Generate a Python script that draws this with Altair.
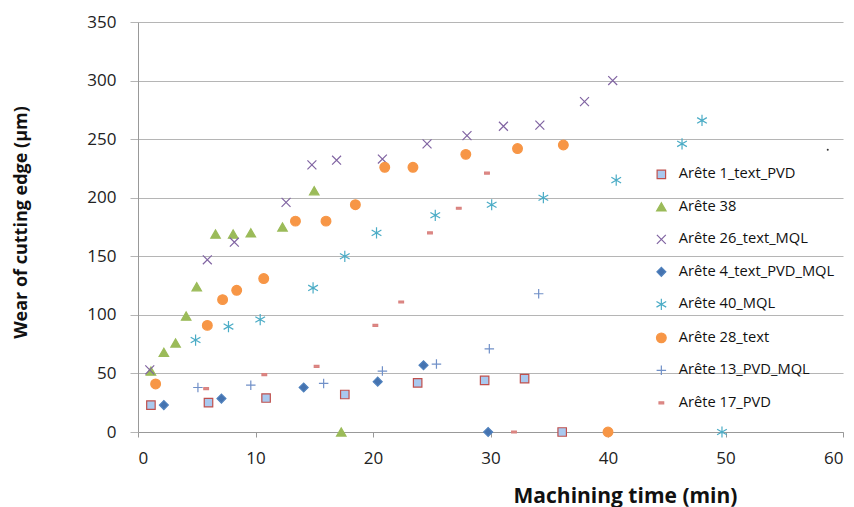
import altair as alt
import pandas as pd

series_names = ["Arête 1_text_PVD", "Arête 38", "Arête 26_text_MQL", "Arête 4_text_PVD_MQL",
                "Arête 40_MQL", "Arête 28_text", "Arête 13_PVD_MQL", "Arête 17_PVD"]

a1_x = [1.1, 6.0, 10.9, 17.6, 23.8, 29.5, 32.9, 36.1]
a1_y = [23, 25, 29, 32, 42, 44, 45.5, 0]
a38_x = [1.1, 2.2, 3.2, 4.1, 5.0, 6.6, 8.1, 9.6, 12.3, 15.0, 17.3]
a38_y = [52, 68, 76, 99, 124, 169, 169, 170, 175, 206, 0]
a26_x = [1.0, 5.9, 8.2, 12.6, 14.8, 16.9, 20.8, 24.6, 28.0, 31.1, 34.2, 38.0, 40.4]
a26_y = [53, 147, 162, 196, 228, 232, 233, 246, 253, 261, 262, 282, 300]
a4_x = [2.2, 7.1, 14.1, 20.4, 24.3, 29.8]
a4_y = [23, 28.5, 38, 43, 57, 0]
a40_x = [4.9, 7.7, 10.4, 14.9, 17.6, 20.3, 25.3, 30.1, 34.5, 40.7, 46.3, 48.0, 49.7]
a40_y = [78.5, 90, 96, 123, 150, 170, 185, 194, 200, 215, 246, 266, 0]
a28_x = [1.5, 5.9, 7.2, 8.4, 10.7, 13.4, 16.0, 18.5, 21.0, 23.4, 27.9, 32.3, 36.2, 40.0]
a28_y = [41, 91, 113, 121, 131, 180, 180, 194, 226, 226, 237, 242, 245, 0]
a13_x = [5.1, 9.6, 15.8, 20.8, 25.4, 29.9, 34.1]
a13_y = [38, 40, 41.5, 52, 58, 71, 118]
a17_x = [5.8, 10.75, 15.2, 20.2, 22.4, 24.85, 27.3, 29.7, 32.0]
a17_y = [37, 49, 56, 91, 111, 170, 191, 221, 0]

stray_x = [58.7]
stray_y = [241]

xs = [a1_x, a38_x, a26_x, a4_x, a40_x, a28_x, a13_x, a17_x]
ys = [a1_y, a38_y, a26_y, a4_y, a40_y, a28_y, a13_y, a17_y]

rows = []
for name, sx, sy in zip(series_names, xs, ys):
    for xv, yv in zip(sx, sy):
        rows.append({"series": name, "t": xv, "wear": yv})
df = pd.DataFrame(rows)
stray = pd.DataFrame({"t": stray_x, "wear": stray_y})

shapes = ["square", "triangle-up", "M-1,-1L1,1M-1,1L1,-1", "diamond",
          "M0,-1V1M-0.87,-0.5L0.87,0.5M-0.87,0.5L0.87,-0.5", "circle",
          "M-1,0H1M0,-1V1", "M-1,-0.4H1V0.4H-1Z"]
strokes = ["#c0504d", "#9bbb59", "#8064a2", "#4f81bd", "#4bacc6", "#f79646", "#7090c8", "#d9827f"]
fills = ["#a9c9ef", "#9bbb59", "transparent", "#4573b0", "transparent", "#f79646", "transparent", "#e08a88"]
sizes = [72, 90, 80, 80, 125, 95, 90, 22]

FONT = "Open Sans"

x_enc = alt.X("t:Q", scale=alt.Scale(domain=[0, 60], nice=False),
              axis=alt.Axis(values=list(range(0, 61, 10)), grid=False, title="Machining time (min)",
                            titleX=487, titleY=53, titleFontSize=21, titleFontWeight="bold",
                            titleFont=FONT, labelFont=FONT, labelFontSize=17, labelColor="#222",
                            titleColor="#111", domainColor="#999", tickColor="#999", tickSize=5,
                            labelPadding=13))
y_enc = alt.Y("wear:Q", scale=alt.Scale(domain=[0, 350], nice=False),
              axis=alt.Axis(values=list(range(0, 351, 50)), grid=True, gridColor="#b5b5b5",
                            title="Wear of cutting edge (µm)", titleX=-108, titleY=200,
                            titleFontSize=18, titleFontWeight="bold", titleFont=FONT,
                            labelFont=FONT, labelFontSize=17, labelColor="#222", titleColor="#111",
                            domainColor="#999", tickColor="#b5b5b5", tickSize=8, labelPadding=14))

points = alt.Chart(df).mark_point(opacity=1, strokeWidth=1.2).encode(
    x=x_enc,
    y=y_enc,
    shape=alt.Shape("series:N", sort=series_names,
                    scale=alt.Scale(domain=series_names, range=shapes), title=None),
    stroke=alt.Stroke("series:N", sort=series_names,
                      scale=alt.Scale(domain=series_names, range=strokes), title=None),
    fill=alt.Fill("series:N", sort=series_names,
                  scale=alt.Scale(domain=series_names, range=fills), title=None),
    size=alt.Size("series:N", sort=series_names,
                  scale=alt.Scale(type="ordinal", domain=series_names, range=sizes), title=None),
)

dot = alt.Chart(stray).mark_point(filled=True, color="#333", size=4, opacity=1).encode(
    x="t:Q", y="wear:Q")

chart = alt.layer(points, dot).properties(
    width=705, height=410,
    autosize=alt.AutoSizeParams(type="none"),
    padding={"left": 130, "top": 14, "right": 3, "bottom": 85},
).configure_view(stroke=None).configure_legend(
    orient="none", legendX=516, legendY=145, labelFont=FONT, labelFontSize=14.7,
    labelColor="#111", rowPadding=16.5, symbolStrokeWidth=1.2, labelOffset=10,
    symbolType="circle"
)

chart.save("out.html", embed_options={"renderer": "svg", "actions": False})
